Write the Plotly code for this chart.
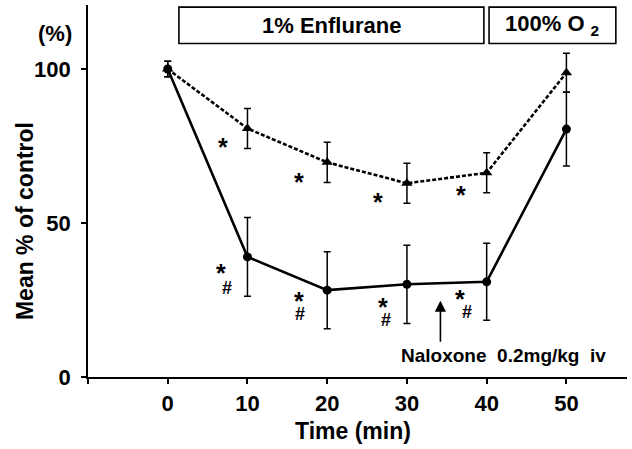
import plotly.graph_objects as go

# ---- data ----
time_min = [0, 10, 20, 30, 40, 50]
xtick_vals = [-10, 0, 10, 20, 30, 40, 50]
xtick_text = ["", "0", "10", "20", "30", "40", "50"]
ytick_vals = [0, 50, 100]

# Naloxone group (circles, solid line)
circle_mean = [100, 39.0, 28.2, 30.1, 30.9, 80.5]
circle_err = [2.5, 12.8, 12.5, 12.7, 12.5, 12.0]

# 100% O2 group (triangles, dashed line)
tri_mean = [100, 80.7, 69.7, 62.9, 66.3, 98.8]
tri_err = [2.5, 6.5, 6.5, 6.5, 6.5, 6.3]

# significance marks (x, y)
tri_star_x = [6.9, 16.5, 26.4, 36.8]
tri_star_y = [76.4, 65.0, 58.5, 60.8]
circ_star_x = [6.7, 16.4, 27.0, 36.7]
circ_star_y = [35.3, 26.3, 24.2, 26.9]
circ_hash_x = [7.4, 16.6, 27.4, 37.5]
circ_hash_y = [29.0, 20.6, 18.5, 21.0]

BOLD = dict(family="Liberation Sans, Arial, sans-serif", color="#000000", weight="bold")

fig = go.Figure()

fig.add_trace(go.Scatter(
    x=time_min, y=tri_mean, mode="lines+markers",
    line=dict(color="black", width=2.6, dash="4px,2px"),
    marker=dict(symbol="triangle-up", size=10, color="black"),
    error_y=dict(type="data", array=tri_err, visible=True, color="black",
                 thickness=1.5, width=3.5),
    showlegend=False,
))
fig.add_trace(go.Scatter(
    x=time_min, y=circle_mean, mode="lines+markers",
    line=dict(color="black", width=2.6),
    marker=dict(symbol="circle", size=9, color="black"),
    error_y=dict(type="data", array=circle_err, visible=True, color="black",
                 thickness=1.5, width=3.5),
    showlegend=False,
))

ann = []
STAR_SHIFT = 1.6
for x, y in zip(tri_star_x + circ_star_x, tri_star_y + circ_star_y):
    ann.append(dict(x=x, y=y - STAR_SHIFT, text="*", showarrow=False,
                    font=dict(BOLD, size=25)))
for x, y in zip(circ_hash_x, circ_hash_y):
    ann.append(dict(x=x, y=y, text="#", showarrow=False,
                    font=dict(BOLD, size=18)))

# arrow for naloxone injection
ann.append(dict(x=34.2, y=24.8, ax=34.2, ay=11.0, axref="x", ayref="y",
                xref="x", yref="y", text="", showarrow=True,
                arrowhead=2, arrowsize=1.4, arrowwidth=1.6, arrowcolor="black"))
ann.append(dict(x=29.0, y=7.0, xanchor="left", yanchor="middle",
                text="Naloxone  0.2mg/kg  iv",
                showarrow=False, font=dict(BOLD, size=19)))

# condition boxes
box1 = (1.4, 39.65)
box2 = (40.3, 56.2)
box_y = (108.3, 120.1)
for (x0, x1) in (box1, box2):
    fig.add_shape(type="rect", x0=x0, x1=x1, y0=box_y[0], y1=box_y[1],
                  xref="x", yref="y", line=dict(color="black", width=1.6),
                  fillcolor="white")
ann.append(dict(x=(box1[0] + box1[1]) / 2, y=(box_y[0] + box_y[1]) / 2,
                text="1% Enflurane", showarrow=False, font=dict(BOLD, size=22)))
ann.append(dict(x=(box2[0] + box2[1]) / 2, y=(box_y[0] + box_y[1]) / 2,
                text="100% O <sub>2</sub>", showarrow=False, font=dict(BOLD, size=22)))

# "(%)" unit label
ann.append(dict(x=-0.062, y=0.924, xref="paper", yref="paper", text="(%)",
                xanchor="center", yanchor="middle",
                showarrow=False, font=dict(BOLD, size=22)))
# axis titles
ann.append(dict(x=-0.117, y=0.419, xref="paper", yref="paper",
                text="Mean % of control", textangle=-90,
                xanchor="center", yanchor="middle",
                showarrow=False, font=dict(BOLD, size=23)))
ann.append(dict(x=0.4917, y=-0.145, xref="paper", yref="paper",
                text="Time (min)", xanchor="center", yanchor="middle",
                showarrow=False, font=dict(BOLD, size=23)))

fig.update_layout(
    width=632, height=449,
    margin=dict(l=88, r=5, t=5, b=72),
    plot_bgcolor="white", paper_bgcolor="white",
    annotations=ann,
    xaxis=dict(
        range=[-10, 57.6], tickvals=xtick_vals, ticktext=xtick_text,
        showgrid=False, zeroline=False, showline=True, linecolor="black",
        linewidth=2, ticks="outside", ticklen=5, tickwidth=1.5, tickcolor="black",
        tickfont=dict(BOLD, size=22), ticklabelstandoff=1,
    ),
    yaxis=dict(
        range=[0, 120.8], tickvals=ytick_vals,
        showgrid=False, zeroline=False, showline=True, linecolor="black",
        linewidth=1.8, ticks="outside", ticklen=5, tickwidth=1.5, tickcolor="black",
        tickfont=dict(BOLD, size=22), ticklabelstandoff=6,
    ),
)

fig.write_html("out.html", config={"displayModeBar": False},
               post_script="document.body.style.margin='0';")
